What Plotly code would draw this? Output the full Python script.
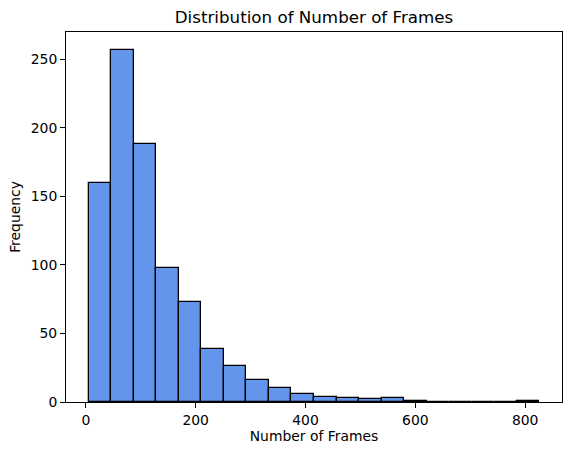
import numpy as np
import plotly.graph_objects as go

# histogram of frame counts, 20 equal bins between min and max
frames_min = 5
frames_max = 826
counts = [160, 257, 188, 98, 73, 39, 26, 16, 10, 6,
          4, 3, 2, 3, 1, 0, 0, 0, 0, 1]
x_ticks = [0, 200, 400, 600, 800]
y_ticks = [0, 50, 100, 150, 200, 250]

edges = np.linspace(frames_min, frames_max, len(counts) + 1)
centers = (edges[:-1] + edges[1:]) / 2
bin_width = edges[1] - edges[0]

span = frames_max - frames_min
x_range = [frames_min - 0.05 * span, frames_max + 0.05 * span]
y_range = [0, max(counts) * 1.05]

font = "DejaVu Sans"

fig = go.Figure()
fig.add_trace(go.Bar(
    x=centers,
    y=counts,
    width=bin_width,
    marker=dict(color="#6495ED", line=dict(color="black", width=1.3)),
    hoverinfo="x+y",
))

axis_common = dict(
    showgrid=False,
    zeroline=False,
    showline=True,
    linecolor="black",
    linewidth=1,
    mirror=True,
    ticks="outside",
    ticklen=5,
    tickwidth=1,
    tickcolor="black",
    automargin=False,
    tickfont=dict(family=font, size=13.9, color="black"),
)

fig.update_layout(
    width=571,
    height=455,
    margin=dict(l=66, r=9, t=32, b=53, autoexpand=False),
    paper_bgcolor="white",
    plot_bgcolor="white",
    showlegend=False,
    bargap=0,
    title=dict(
        text="Distribution of Number of Frames",
        font=dict(family=font, size=16.7, color="black"),
        x=0.5,
        xref="paper",
        y=1 - 17 / 455,
        yref="container",
        xanchor="center",
        yanchor="middle",
        automargin=False,
    ),
    xaxis=dict(
        axis_common,
        range=x_range,
        tickvals=x_ticks,
        title=dict(text="Number of Frames", font=dict(family=font, size=13.9, color="black"), standoff=4),
    ),
    yaxis=dict(
        axis_common,
        range=y_range,
        tickvals=y_ticks,
        title=dict(text="Frequency", font=dict(family=font, size=13.9, color="black"), standoff=6),
    ),
)

# the default page has an 8px body margin; drop it so the figure sits at 0,0
fig.write_html(
    "out.html",
    config={"displayModeBar": False},
    post_script="document.body.style.margin='0';",
)
